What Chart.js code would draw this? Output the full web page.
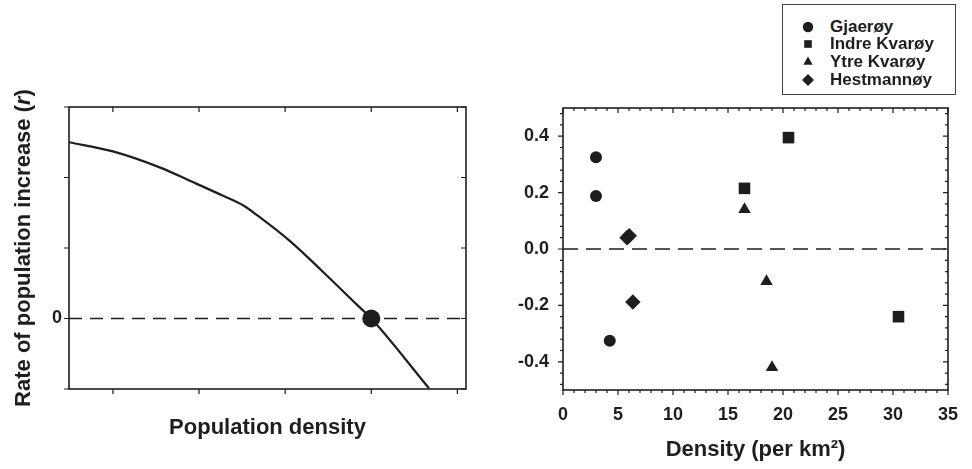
<!DOCTYPE html>
<html>
<head>
<meta charset="utf-8">
<script src="https://cdn.jsdelivr.net/npm/chart.js@4/dist/chart.umd.min.js"></script>
<style>
  body { margin: 0; background: #fff; width: 972px; height: 469px; overflow: hidden; position: relative; }
  #izq { position: absolute; left: 0; top: 0; }
  #der { position: absolute; left: 490px; top: 0; }
  #leyenda {
    position: absolute; left: 782px; top: 4px; width: 172px; height: 89px;
    border: 1px solid #444; background: #fff;
    font-family: "Liberation Sans", Arial, sans-serif; font-weight: bold; font-size: 17px; color: #1e1e1e;
  }
  .fila { position: absolute; left: 0; height: 18px; line-height: 18px; white-space: nowrap; }
  .fila canvas { position: absolute; left: 16px; top: 0; }
  .fila span { position: absolute; left: 47px; top: 0; }
</style>
</head>
<body>
<canvas id="izq" width="480" height="469"></canvas>
<canvas id="der" width="482" height="469"></canvas>
<div id="leyenda"></div>
<script>
// Panel izquierdo: curva r vs densidad
const densidadCurva = [0.49, 1.0, 1.55, 1.9, 2.28, 2.52, 2.67, 3.06, 3.45, 3.83, 4.0, 4.67];
const tasaCurva = [2.5, 2.37, 2.14, 1.95, 1.74, 1.6, 1.47, 1.095, 0.65, 0.2, 0.0, -0.99];
const equilibrioX = [4];
const equilibrioY = [0];
const izqMinX = 0.49, izqMaxX = 5.1;
const izqMinY = -1, izqMaxY = 3;
const ticksIzqX = [1, 2, 3, 4, 5];
const ticksIzqY = [-1, 0, 1, 2, 3];

// Panel derecho: islas
const islas = ["Gjaerøy", "Indre Kvarøy", "Ytre Kvarøy", "Hestmannøy"];
const estilos = ["circle", "rect", "triangle", "rectRot"];
const radios = [6, 8.2, 7.2, 7.7];
const radiosLeyenda = [5.2, 5.4, 5.4, 6];
const gjaeroyX = [3.0, 3.0, 4.25];
const gjaeroyY = [0.325, 0.188, -0.325];
const indreX = [20.5, 16.5, 30.5];
const indreY = [0.395, 0.215, -0.24];
const ytreX = [16.5, 18.5, 19.0];
const ytreY = [0.14, -0.115, -0.42];
const hestX = [5.82, 6.02, 6.35];
const hestY = [0.040, 0.047, -0.188];
const derMinX = 0, derMaxX = 35;
const derMinY = -0.5, derMaxY = 0.5;
const ticksDerX = [0, 5, 10, 15, 20, 25, 30, 35];
const ticksDerY = [-0.4, -0.2, 0.0, 0.2, 0.4];

const negro = "#1e1e1e";
const fuente = "'Liberation Sans', Arial, sans-serif";

Chart.defaults.font.family = fuente;
Chart.defaults.color = negro;

function puntos(xs, ys) {
  return xs.map((x, i) => ({ x: x, y: ys[i] }));
}

// marco con marcas hacia fuera (abajo/izquierda) y hacia dentro (arriba/derecha)
function crearMarco(cfg) {
  return {
    id: "marco",
    afterDatasetsDraw(chart) {
      const ctx = chart.ctx;
      const a = chart.chartArea;
      const sx = chart.scales.x, sy = chart.scales.y;
      ctx.save();
      ctx.strokeStyle = negro;
      ctx.lineWidth = 1.6;
      ctx.strokeRect(a.left, a.top, a.right - a.left, a.bottom - a.top);
      ctx.lineWidth = 1.2;
      ctx.beginPath();
      const marcasX = (vals, largo) => vals.forEach(v => {
        const px = sx.getPixelForValue(v);
        ctx.moveTo(px, a.bottom); ctx.lineTo(px, a.bottom + largo);
        ctx.moveTo(px, a.top); ctx.lineTo(px, a.top + largo);
      });
      const marcasY = (vals, largo) => vals.forEach(v => {
        const py = sy.getPixelForValue(v);
        ctx.moveTo(a.left, py); ctx.lineTo(a.left - largo, py);
        ctx.moveTo(a.right, py); ctx.lineTo(a.right - largo, py);
      });
      marcasX(cfg.mayoresX, cfg.largo);
      marcasX(cfg.menoresX, cfg.largoMenor);
      marcasY(cfg.mayoresY, cfg.largo);
      marcasY(cfg.menoresY, cfg.largoMenor);
      ctx.stroke();
      ctx.restore();
    }
  };
}

// título del eje y con la r en cursiva
const tituloY = {
  id: "tituloY",
  afterDraw(chart) {
    const ctx = chart.ctx;
    const a = chart.chartArea;
    const partes = [
      ["Rate of population increase (", "bold 22px " + fuente],
      ["r", "italic bold 22px " + fuente],
      [")", "bold 22px " + fuente]
    ];
    ctx.save();
    let total = 0;
    partes.forEach(p => { ctx.font = p[1]; total += ctx.measureText(p[0]).width; });
    ctx.translate(30, (a.top + a.bottom) / 2);
    ctx.rotate(-Math.PI / 2);
    ctx.fillStyle = negro;
    ctx.textBaseline = "alphabetic";
    let x = -total / 2;
    partes.forEach(p => {
      ctx.font = p[1];
      ctx.fillText(p[0], x, 0);
      x += ctx.measureText(p[0]).width;
    });
    ctx.restore();
  }
};

const graficoIzq = new Chart(document.getElementById("izq"), {
  type: "scatter",
  data: {
    datasets: [
      {
        data: puntos(equilibrioX, equilibrioY),
        pointRadius: 9,
        backgroundColor: negro,
        borderColor: negro,
        borderWidth: 0,
        order: 0
      },
      {
        data: puntos(densidadCurva, tasaCurva),
        showLine: true,
        pointRadius: 0,
        borderColor: negro,
        borderWidth: 2.2,
        cubicInterpolationMode: "monotone",
        order: 1
      },
      {
        data: [{ x: izqMinX, y: 0 }, { x: izqMaxX, y: 0 }],
        showLine: true,
        pointRadius: 0,
        borderColor: negro,
        borderWidth: 1.5,
        borderDash: [13, 8],
        order: 2
      }
    ]
  },
  options: {
    responsive: false,
    animation: false,
    events: [],
    layout: { padding: { left: 0, right: 14, top: 107, bottom: 0 } },
    plugins: { legend: { display: false }, tooltip: { enabled: false } },
    scales: {
      x: {
        type: "linear",
        min: izqMinX,
        max: izqMaxX,
        afterBuildTicks: s => { s.ticks = ticksIzqX.map(v => ({ value: v })); },
        afterFit: s => { s.height = 80; },
        grid: { display: false, drawTicks: false },
        border: { display: false },
        ticks: { display: false },
        title: {
          display: true,
          text: "Population density",
          font: { size: 22, weight: "bold" },
          color: negro,
          padding: { top: 0, bottom: 28 }
        }
      },
      y: {
        min: izqMinY,
        max: izqMaxY,
        afterBuildTicks: s => { s.ticks = ticksIzqY.map(v => ({ value: v })); },
        afterFit: s => { s.width = 69; },
        grid: { display: false, drawTicks: false },
        border: { display: false },
        ticks: {
          autoSkip: false,
          padding: 7,
          font: { size: 18, weight: "bold" },
          color: negro,
          callback: v => (v === 0 ? "0" : "")
        }
      }
    }
  },
  plugins: [
    crearMarco({ mayoresX: ticksIzqX, menoresX: [], mayoresY: ticksIzqY, menoresY: [], largo: 5, largoMenor: 3 }),
    tituloY
  ]
});

// marcas menores cada 1 en x y cada 0.04 en y
const menoresDerX = [];
for (let v = derMinX; v <= derMaxX; v++) if (!ticksDerX.includes(v)) menoresDerX.push(v);
const menoresDerY = [];
for (let k = -12; k <= 12; k++) {
  const v = Math.round(k * 4) / 100;
  if (!ticksDerY.some(t => Math.abs(t - v) < 1e-9)) menoresDerY.push(v);
}

const seriesX = [gjaeroyX, indreX, ytreX, hestX];
const seriesY = [gjaeroyY, indreY, ytreY, hestY];

const graficoDer = new Chart(document.getElementById("der"), {
  type: "scatter",
  data: {
    datasets: islas.map((nombre, i) => ({
      label: nombre,
      data: puntos(seriesX[i], seriesY[i]),
      pointStyle: estilos[i],
      pointRadius: radios[i],
      backgroundColor: negro,
      borderColor: negro,
      borderWidth: 0,
      order: i
    })).concat([{
      label: "",
      data: [{ x: derMinX, y: 0 }, { x: derMaxX, y: 0 }],
      showLine: true,
      pointRadius: 0,
      borderColor: negro,
      borderWidth: 1.5,
      borderDash: [15, 8],
      order: 10
    }])
  },
  options: {
    responsive: false,
    animation: false,
    events: [],
    layout: { padding: { left: 0, right: 12, top: 108, bottom: 0 } },
    plugins: { legend: { display: false }, tooltip: { enabled: false } },
    scales: {
      x: {
        type: "linear",
        min: derMinX,
        max: derMaxX,
        afterBuildTicks: s => { s.ticks = ticksDerX.map(v => ({ value: v })); },
        afterFit: s => { s.height = 79; },
        grid: { display: false, drawTicks: false },
        border: { display: false },
        ticks: {
          autoSkip: false,
          maxRotation: 0,
          padding: 14,
          font: { size: 18, weight: "bold" },
          color: negro
        },
        title: {
          display: true,
          text: "Density (per km²)",
          font: { size: 22, weight: "bold" },
          color: negro,
          padding: { top: 0, bottom: 6 }
        }
      },
      y: {
        min: derMinY,
        max: derMaxY,
        afterBuildTicks: s => { s.ticks = ticksDerY.map(v => ({ value: v })); },
        afterFit: s => { s.width = 73; },
        grid: { display: false, drawTicks: false },
        border: { display: false },
        ticks: {
          autoSkip: false,
          padding: 14,
          font: { size: 18, weight: "bold" },
          color: negro,
          callback: v => v.toFixed(1)
        }
      }
    }
  },
  plugins: [
    crearMarco({ mayoresX: ticksDerX, menoresX: menoresDerX, mayoresY: ticksDerY, menoresY: menoresDerY, largo: 5, largoMenor: 3 })
  ]
});

// leyenda en HTML a partir de los datasets
function armarLeyenda(chart) {
  const caja = document.getElementById("leyenda");
  chart.data.datasets.slice(0, islas.length).forEach((ds, i) => {
    const fila = document.createElement("div");
    fila.className = "fila";
    fila.style.top = (12.5 + i * 17.8) + "px";
    const lienzo = document.createElement("canvas");
    lienzo.width = 18;
    lienzo.height = 18;
    const c = lienzo.getContext("2d");
    c.fillStyle = negro;
    Chart.helpers.drawPoint(c, { pointStyle: ds.pointStyle, radius: radiosLeyenda[i], borderWidth: 0, rotation: 0 }, 9, 9);
    const texto = document.createElement("span");
    texto.textContent = ds.label;
    fila.appendChild(lienzo);
    fila.appendChild(texto);
    caja.appendChild(fila);
  });
}

armarLeyenda(graficoDer);
</script>
</body>
</html>
